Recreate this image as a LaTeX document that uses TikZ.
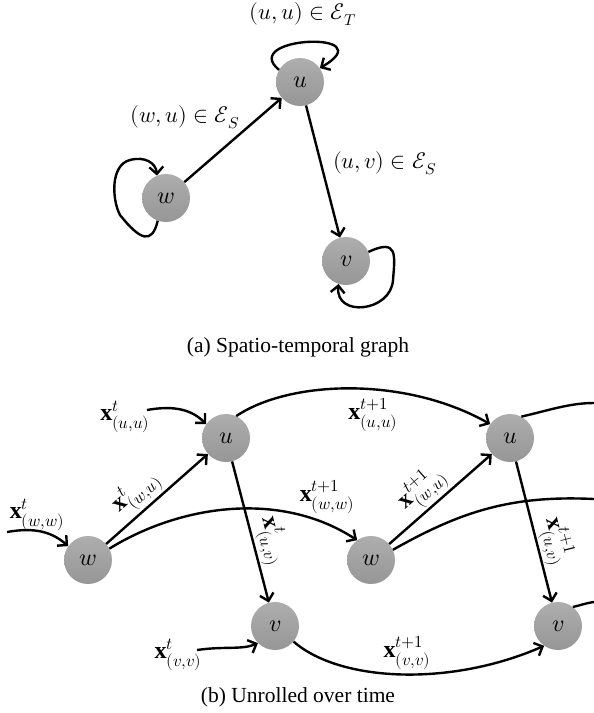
\documentclass[tikz,border=0pt]{standalone}
\usepackage{fontspec}
\usepackage{unicode-math}
\setmainfont{Liberation Serif}
\setmathfont{Latin Modern Math}
\usetikzlibrary{arrows.meta}
\begin{document}
\begin{tikzpicture}[x=1pt,y=-1pt,
  gnode/.style={circle,minimum size=48pt,inner sep=0pt,top color={rgb,255:red,174;green,174;blue,174},bottom color={rgb,255:red,150;green,150;blue,150},font=\fontsize{24}{28}\selectfont},
  edge/.style={line width=2.4pt,-{Straight Barb[length=7pt,width=14pt]}},
  plain/.style={line width=2.4pt},
  toplbl/.style={font=\fontsize{22.5}{26}\selectfont},
  xlbl/.style={font=\fontsize{24}{28}\selectfont,inner sep=1pt},
  slbl/.style={font=\fontsize{24}{28}\selectfont,inner sep=1pt,sloped,above=1pt},
  captxt/.style={font=\fontsize{21.5}{26}\selectfont}
]
\useasboundingbox (0,0) rectangle (594,713);
% ---------- (a) ----------
\node[gnode] (U) at (300,82) {$u$};
\node[gnode] (W) at (166,198) {$w$};
\node[gnode] (V) at (346,261) {$v$};
\draw[edge] (W) -- (U);
\draw[edge] (U) -- (V);
\draw[edge] (U.150) .. controls (238,36) and (385,30) .. (U.35);
\draw[edge] (W.250) .. controls (152,245) and (140,240) .. (120,215) .. controls (112,200) and (110,165) .. (130,160) .. controls (145,156) and (156,163) .. (W.112);
\draw[edge] (V.22) .. controls (398,238) and (395,255) .. (393,280) .. controls (391,312) and (335,318) .. (V.252);
\node[toplbl] (lUU) at (303,14) {$(u,u)\in\mathcal{E}_T$};
\node[toplbl] (lWU) at (185,117) {$(w,u)\in\mathcal{E}_S$};
\node[toplbl] (lUV) at (385,163) {$(u,v)\in\mathcal{E}_S$};
\node[captxt] (capa) at (298,347) {(a) Spatio-temporal graph};
% ---------- (b) ----------
\node[gnode] (U1) at (226,438) {$u$};
\node[gnode] (W1) at (88,560) {$w$};
\node[gnode] (V1) at (275,626) {$v$};
\node[gnode] (U2) at (510,438) {$u$};
\node[gnode] (W2) at (371,560) {$w$};
\node[gnode] (V2) at (558,626) {$v$};
\coordinate (iu1) at (147,410);
\coordinate (iw1) at (7,532);
\coordinate (iv1) at (197,650);
\coordinate (ou2) at (594,403);
\coordinate (ow2) at (594,499);
\coordinate (ov2) at (594,602);
\draw[edge] (iu1) .. controls (175,405) and (192,410) .. (U1.145);
\draw[edge] (iw1) .. controls (35,527) and (52,532) .. (W1.145);
\draw[edge] (iv1) .. controls (225,646) and (242,650) .. (V1.225);
\draw[edge] (W1) -- node[slbl,pos=0.42] {$\mathbf{x}^t_{(w,u)}$} (U1);
\draw[edge] (U1) -- node[slbl,pos=0.6] {$\mathbf{x}^t_{(u,v)}$} (V1);
\draw[edge] (W2) -- node[slbl,pos=0.45] {$\mathbf{x}^{t+1}_{(w,u)}$} (U2);
\draw[edge] (U2) -- node[slbl,pos=0.6] {$\mathbf{x}^{t+1}_{(u,v)}$} (V2);
\draw[edge] (U1.65) .. controls (290,380) and (405,376) .. (U2.145);
\draw[edge] (W1.28) .. controls (180,505) and (280,490) .. (W2.125);
\draw[edge] (V1.-40) .. controls (340,682) and (450,687) .. (V2.235);
\draw[plain] (U2.62) .. controls (550,410) and (570,403) .. (ou2);
\draw[plain] (W2.25) .. controls (460,512) and (510,495) .. (ow2);
\draw[plain] (V2.52) .. controls (578,606) and (586,603) .. (ov2);
\node[xlbl] (l1) at (125,417) {$\mathbf{x}^t_{(u,u)}$};
\node[xlbl] (l2) at (37,515) {$\mathbf{x}^t_{(w,w)}$};
\node[xlbl] (l3) at (178,655) {$\mathbf{x}^t_{(v,v)}$};
\node[xlbl] (l4) at (373,415) {$\mathbf{x}^{t+1}_{(u,u)}$};
\node[xlbl] (l5) at (327,497) {$\mathbf{x}^{t+1}_{(w,w)}$};
\node[xlbl] (l6) at (407,653) {$\mathbf{x}^{t+1}_{(v,v)}$};
\node[captxt] (capb) at (298,697) {(b) Unrolled over time};
\end{tikzpicture}
\end{document}
